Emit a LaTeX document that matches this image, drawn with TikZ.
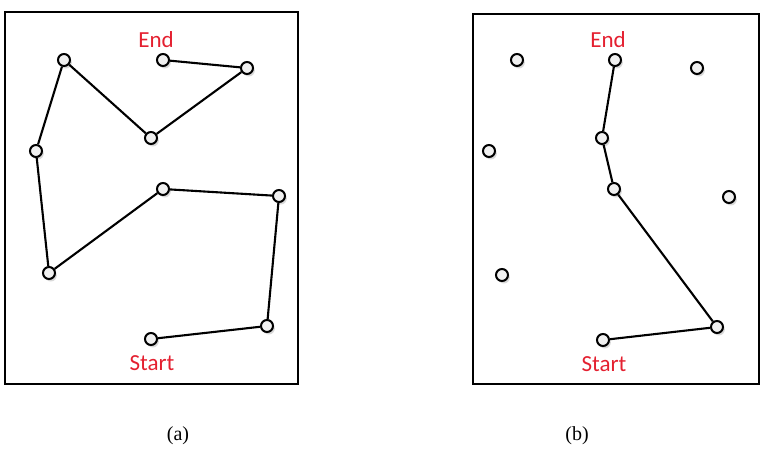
\documentclass[tikz,border=0pt]{standalone}
\usepackage{fontspec}
\setmainfont{Liberation Serif}
\newfontfamily\calib{Carlito}
\usetikzlibrary{shadows}
\definecolor{lblred}{RGB}{228,32,48}
\begin{document}
\begin{tikzpicture}[x=1pt,y=-1pt,
  pt/.style={circle,draw=black,line width=2pt,fill=gray!12,inner sep=0pt,minimum size=12pt,
    drop shadow={shadow xshift=1.8pt,shadow yshift=-2.5pt,opacity=0.3}},
  frame/.style={draw=black,line width=1.7pt},
  edge/.style={draw=black,line width=2.1pt},
  lbl/.style={text=lblred,font=\calib\fontsize{23}{26}\selectfont},
  captxt/.style={font=\fontsize{20}{24}\selectfont}]
\useasboundingbox (0,0) rectangle (767,466);
% frames
\draw[frame] (5,12) rectangle (298,384);
\draw[frame] (473,14) rectangle (759,384);
% (a) points
\node[pt] (a1) at (151,339) {};
\node[pt] (a2) at (267,326) {};
\node[pt] (a3) at (279,196) {};
\node[pt] (a4) at (163,189) {};
\node[pt] (a5) at (49,273) {};
\node[pt] (a6) at (36,151) {};
\node[pt] (a7) at (64,60) {};
\node[pt] (a8) at (151,138) {};
\node[pt] (a9) at (247,68) {};
\node[pt] (a10) at (163,60) {};
\draw[edge] (a1) -- (a2) -- (a3) -- (a4) -- (a5) -- (a6) -- (a7) -- (a8) -- (a9) -- (a10);
\node[lbl] (enda) at (156,40) {End};
\node[lbl] (starta) at (152,363) {Start};
% (b) points
\node[pt] (b1) at (603,340) {};
\node[pt] (b2) at (717,327) {};
\node[pt] (b3) at (614,189) {};
\node[pt] (b4) at (602,138) {};
\node[pt] (b5) at (615,60) {};
\node[pt] (b6) at (517,60) {};
\node[pt] (b7) at (697,68) {};
\node[pt] (b8) at (489,151) {};
\node[pt] (b9) at (729,197) {};
\node[pt] (b10) at (502,275) {};
\draw[edge] (b1) -- (b2) -- (b3) -- (b4) -- (b5);
\node[lbl] (endb) at (608,40) {End};
\node[lbl] (startb) at (604,364) {Start};
% captions
\node[captxt] (capa) at (178,436) {(a)};
\node[captxt] (capb) at (577,436) {(b)};
\end{tikzpicture}
\end{document}
